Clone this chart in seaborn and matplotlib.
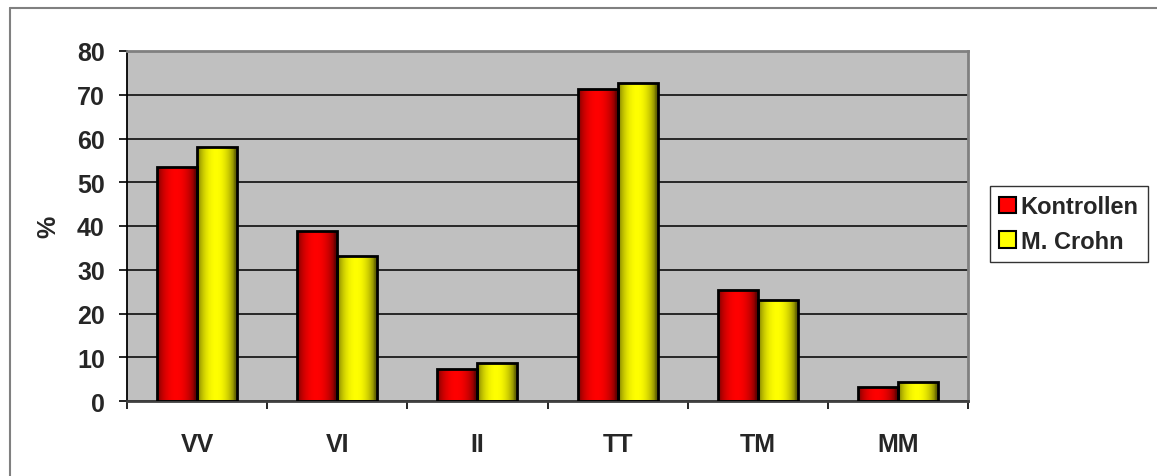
import numpy as np
import pandas as pd
import matplotlib
matplotlib.use("Agg")
import matplotlib.pyplot as plt
import seaborn as sns
from matplotlib.lines import Line2D
from matplotlib.patches import Patch

# Genotype frequencies (%)
genotypes = ["VV", "VI", "II", "TT", "TM", "MM"]
kontrollen = [53.5, 38.9, 7.3, 71.3, 25.4, 3.2]
crohn = [58.1, 33.1, 8.7, 72.7, 23.1, 4.3]
groups = ["Kontrollen", "M. Crohn"]
y_ticks = [0, 10, 20, 30, 40, 50, 60, 70, 80]

df = pd.DataFrame({
    "genotype": genotypes * 2,
    "percent": kontrollen + crohn,
    "group": [groups[0]] * len(genotypes) + [groups[1]] * len(genotypes),
})

sns.set_style("white")
plt.rcParams["font.family"] = ["Liberation Sans", "DejaVu Sans"]
plt.rcParams["font.weight"] = "bold"

base_colors = {groups[0]: (1.0, 0.0, 0.0), groups[1]: (1.0, 1.0, 0.0)}

fig = plt.figure(figsize=(11.57, 4.77), dpi=100)
ax = fig.add_axes([127 / 1157, 1 - 402 / 477, 841 / 1157, 350 / 477])
ax.set_facecolor("#C0C0C0")

sns.barplot(data=df, x="genotype", y="percent", hue="group",
            palette=base_colors, width=0.57, saturation=1,
            edgecolor="black", linewidth=2.0, legend=False, ax=ax, zorder=3)

ax.set_xlim(-0.5, len(genotypes) - 0.5)
ax.set_ylim(y_ticks[0], y_ticks[-1])
ax.set_yticks(y_ticks)

# Horizontal shading across each bar: dark edges, bright centre
t = np.linspace(0, 1, 64)
shade = 0.40 + 0.60 * np.sin(np.pi * np.clip(t * 1.05, 0, 1)) ** 0.6
n = len(genotypes)
for i, patch in enumerate(ax.patches[: 2 * n]):
    grp = groups[i // n]
    r, g, b = base_colors[grp]
    img = np.stack([r * shade, g * shade, b * shade], axis=-1)[None, :, :]
    x0, y0 = patch.get_x(), patch.get_y()
    w, h = patch.get_width(), patch.get_height()
    im = ax.imshow(img, extent=(x0, x0 + w, y0, y0 + h), aspect="auto",
                   origin="lower", interpolation="bilinear", zorder=2.5)
    im.set_clip_path(patch)
    patch.set_facecolor("none")

ax.set_xlim(-0.5, len(genotypes) - 0.5)
ax.set_ylim(y_ticks[0], y_ticks[-1])

# Grid and frame
ax.set_axisbelow(True)
ax.yaxis.grid(True, color="#1a1a1a", linewidth=1.3)
ax.xaxis.grid(False)
for side in ["top", "right"]:
    ax.spines[side].set_color("#808080")
    ax.spines[side].set_linewidth(2.0)
ax.spines["left"].set_color("black")
ax.spines["left"].set_linewidth(1.3)
ax.spines["bottom"].set_color("#404040")
ax.spines["bottom"].set_linewidth(2.0)

# Category separators as outward tick marks
ax.set_xticks(np.arange(-0.5, len(genotypes)), minor=True)
ax.tick_params(axis="x", which="minor", direction="out", length=6, width=1.2,
               color="black", bottom=True)
ax.tick_params(axis="x", which="major", length=0, pad=22, labelsize=18)
ax.tick_params(axis="y", which="major", direction="out", length=6, width=1.2,
               color="black", left=True, pad=10, labelsize=18)
for lbl in ax.get_xticklabels() + ax.get_yticklabels():
    lbl.set_fontweight("bold")

ax.set_xlabel("")
ax.set_ylabel("%", fontsize=18, fontweight="bold", labelpad=12)

# Legend
handles = [Patch(facecolor=base_colors[g], edgecolor="black", linewidth=1.5, label=g)
           for g in groups]
leg = fig.legend(handles=handles, loc="center left",
                 bbox_to_anchor=(990 / 1157, 1 - 225 / 477),
                 frameon=True, fancybox=False, prop={"size": 17, "weight": "bold"},
                 handlelength=0.7, handleheight=0.7, handletextpad=0.2,
                 labelspacing=0.5, borderpad=0.4, borderaxespad=0.0)
leg.get_frame().set_edgecolor("black")
leg.get_frame().set_linewidth(1.0)

# Outer chart frame
fig.add_artist(Line2D([10 / 1157, 1.0], [1 - 9 / 477, 1 - 9 / 477],
                      color="#808080", linewidth=1.5, transform=fig.transFigure))
fig.add_artist(Line2D([10 / 1157, 10 / 1157], [0.0, 1 - 9 / 477],
                      color="#808080", linewidth=1.5, transform=fig.transFigure))

fig.savefig("out.png", dpi=100, facecolor="white")
